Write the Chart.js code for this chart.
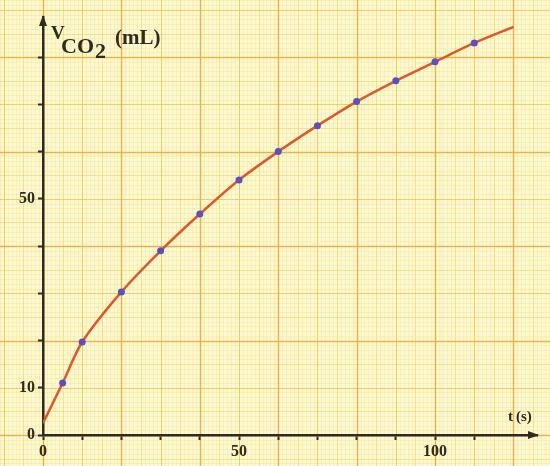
<!DOCTYPE html>
<html>
<head>
<meta charset="utf-8">
<script src="https://cdn.jsdelivr.net/npm/chart.js@4/dist/chart.umd.min.js"></script>
<style>
  html, body { margin: 0; padding: 0; background: #fdf8d2; }
  #wrap { width: 550px; height: 466px; }
</style>
</head>
<body>
<div id="wrap"><canvas id="co2Canvas"></canvas></div>
<script>
// measured points (t in s, V in mL)
const times = [5, 10, 20, 30, 40, 50, 60, 70, 80, 90, 100, 110];
const volumes = [11, 19.7, 30.3, 39, 46.8, 54, 60, 65.5, 70.6, 75, 79, 83];
// hand-drawn curve through the points
const curveTimes = [0, 5, 10, 20, 30, 40, 50, 60, 70, 80, 90, 100, 110, 120];
const curveVolumes = [2.5, 11, 19.7, 30.3, 39, 46.8, 54, 60, 65.5, 70.6, 75, 79, 83, 86.4];
const xLabels = [0, 50, 100];
const yLabels = [0, 10, 50];

const ink = "#2e2b22";
const labelFont = { family: "'Liberation Serif', serif", size: 16, weight: "bold" };

// graph paper behind everything, laid out on the chart's own scales
const paper = {
    id: "paper",
    beforeDraw(chart) {
        const ctx = chart.ctx;
        const xs = chart.scales.x, ys = chart.scales.y;
        ctx.save();
        ctx.fillStyle = "#fdf8d2";
        ctx.fillRect(0, 0, chart.width, chart.height);
        const line = (v, isX, color, w) => {
            ctx.strokeStyle = color;
            ctx.lineWidth = w;
            ctx.beginPath();
            if (isX) {
                const p = Math.round(xs.getPixelForValue(v)) + 0.5;
                ctx.moveTo(p, 0); ctx.lineTo(p, chart.height);
            } else {
                const p = Math.round(ys.getPixelForValue(v)) + 0.5;
                ctx.moveTo(0, p); ctx.lineTo(chart.width, p);
            }
            ctx.stroke();
        };
        const x0 = Math.floor(xs.getValueForPixel(0)), x1 = Math.ceil(xs.getValueForPixel(chart.width));
        const y0 = Math.floor(ys.getValueForPixel(chart.height)), y1 = Math.ceil(ys.getValueForPixel(0));
        const layers = [
            [1, "rgba(240,224,120,0.3)", 1],
            [5, "rgba(240,214,90,0.5)", 1],
            [10, "rgba(242,198,75,0.7)", 1],
            [20, "rgba(238,165,60,0.75)", 1.5]
        ];
        for (const [step, color, w] of layers) {
            for (let v = x0; v <= x1; v++) if (v % step === 0) line(v, true, color, w);
            for (let v = y0; v <= y1; v++) if (v % step === 0) line(v, false, color, w);
        }
        ctx.restore();
    }
};

// arrows and axis titles
const axisText = {
    id: "axisText",
    afterDraw(chart) {
        const ctx = chart.ctx;
        const a = chart.chartArea;
        ctx.save();
        ctx.fillStyle = ink;
        ctx.beginPath();
        ctx.moveTo(a.right + 2, a.bottom);
        ctx.lineTo(a.right - 9, a.bottom - 4);
        ctx.lineTo(a.right - 9, a.bottom + 4);
        ctx.closePath();
        ctx.fill();
        ctx.beginPath();
        ctx.moveTo(a.left, a.top - 2);
        ctx.lineTo(a.left - 4, a.top + 9);
        ctx.lineTo(a.left + 4, a.top + 9);
        ctx.closePath();
        ctx.fill();

        ctx.textBaseline = "alphabetic";
        ctx.textAlign = "left";
        const f = (s) => "bold " + s + "px 'Liberation Serif', serif";
        const l = a.left;
        ctx.font = f(19); ctx.fillText("V", l + 8, a.top + 22);
        ctx.font = f(22);
        ctx.fillText("CO", l + 18, a.top + 36);
        const coW = ctx.measureText("CO").width;
        ctx.fillText("2", l + 18 + coW + 1, a.top + 41);
        ctx.font = f(21); ctx.fillText("(mL)", l + 72, a.top + 27);

        ctx.font = f(15);
        ctx.fillText("t", a.right - 29, a.bottom - 14);
        ctx.fillText("(s)", a.right - 21, a.bottom - 14);
        ctx.restore();
    }
};

const canvas = document.getElementById("co2Canvas");
const co2Chart = new Chart(canvas, {
    type: "scatter",
    data: {
        datasets: [{
            label: "points",
            data: times.map((t, i) => ({ x: t, y: volumes[i] })),
            backgroundColor: "#5a4fc4",
            borderColor: "#5a4fc4",
            pointRadius: 3.5,
            pointBorderWidth: 0,
            order: 0
        }, {
            label: "curve",
            data: curveTimes.map((t, i) => ({ x: t, y: curveVolumes[i] })),
            showLine: true,
            tension: 0.3,
            borderColor: "#e0582a",
            borderWidth: 2.5,
            pointRadius: 0,
            order: 1
        }]
    },
    options: {
        responsive: true,
        maintainAspectRatio: false,
        animation: false,
        layout: { padding: { top: 17, right: 13, left: 0, bottom: 0 } },
        plugins: { legend: { display: false }, tooltip: { enabled: false } },
        scales: {
            x: {
                type: "linear",
                min: 0,
                max: 126,
                afterBuildTicks: (s) => { s.ticks = s.ticks.filter(t => t.value % 10 === 0); },
                afterFit: (s) => { s.height = 31; },
                ticks: {
                    stepSize: 10,
                    autoSkip: false,
                    maxRotation: 0,
                    padding: 2,
                    color: ink,
                    font: labelFont,
                    callback: (v) => xLabels.includes(v) ? String(v) : ""
                },
                grid: { drawOnChartArea: false, drawTicks: true, tickLength: 5, tickColor: ink, tickWidth: 2 },
                border: { color: ink, width: 2.5 }
            },
            y: {
                type: "linear",
                min: 0,
                max: 88.5,
                afterBuildTicks: (s) => { s.ticks = s.ticks.filter(t => t.value % 10 === 0); },
                afterFit: (s) => { s.width = 43; },
                ticks: {
                    stepSize: 10,
                    autoSkip: false,
                    padding: 3,
                    color: ink,
                    font: labelFont,
                    callback: (v) => yLabels.includes(v) ? String(v) : ""
                },
                grid: { drawOnChartArea: false, drawTicks: true, tickLength: 5, tickColor: ink, tickWidth: 2 },
                border: { color: ink, width: 2.5 }
            }
        }
    },
    plugins: [paper, axisText]
});
</script>
</body>
</html>
